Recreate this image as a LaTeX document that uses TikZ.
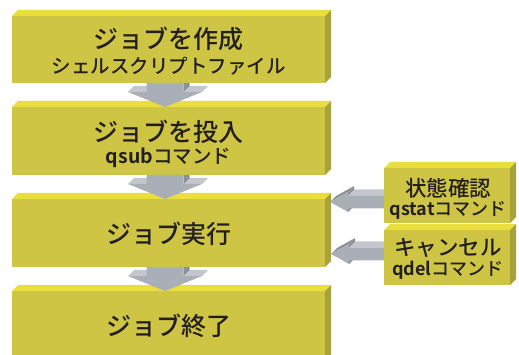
\documentclass[tikz,border=0pt]{standalone}
\usepackage{fontspec}
\setmainfont{Noto Sans CJK JP}[UprightFont={* Medium},BoldFont={* Bold}]
\definecolor{fc}{RGB}{207,197,69}
\definecolor{tc}{RGB}{233,222,61}
\definecolor{sc}{RGB}{168,162,58}
\definecolor{afront}{RGB}{170,174,182}
\definecolor{alight}{RGB}{195,199,205}
\definecolor{adark}{RGB}{140,145,152}
\definecolor{txt}{RGB}{35,31,32}
\newcommand\blk[4]{%
 \fill[fc] (#1,#2) rectangle (#3,#4);
 \fill[tc] (#1,#2) -- (#3,#2) -- (#3+6,#2-6) -- (#1+6,#2-6) -- cycle;
 \fill[sc] (#3,#2) -- (#3+6,#2-6) -- (#3+6,#4-6) -- (#3,#4) -- cycle;}
\newcommand\darr[4]{%
 \fill[alight] (#1-37,#3) -- (#1-18.5,#3) -- (#1-12.5,#3-6) -- (#1-31,#3-6) -- cycle;
 \fill[alight] (#1+18.5,#3) -- (#1+37,#3) -- (#1+43,#3-6) -- (#1+24.5,#3-6) -- cycle;
 \fill[adark] (#1+18.5,#2) -- (#1+24.5,#2) -- (#1+24.5,#3-6) -- (#1+18.5,#3) -- cycle;
 \fill[afront] (#1-18.5,#2) -- (#1+18.5,#2) -- (#1+18.5,#3) -- (#1+37,#3) -- (#1,#4) -- (#1-37,#3) -- (#1-18.5,#3) -- cycle;}
\newcommand\larr[4]{%
 \fill[alight] (#3,#2-6.5) -- (#4,#2-6.5) -- (#4+6,#2-12.5) -- (#3+6,#2-12.5) -- cycle;
 \fill[adark] (#1,#2) -- (#3,#2-10) -- (#3+6,#2-16) -- (#1+6,#2-6) -- cycle;
 \fill[adark] (#3,#2-10) -- (#3,#2-6.5) -- (#3+6,#2-12.5) -- (#3+6,#2-16) -- cycle;
 \fill[adark] (#3,#2+6.5) -- (#3,#2+10) -- (#3+6,#2+4) -- (#3+6,#2+0.5) -- cycle;
 \fill[afront] (#4,#2-6.5) -- (#3,#2-6.5) -- (#3,#2-10) -- (#1,#2) -- (#3,#2+10) -- (#3,#2+6.5) -- (#4,#2+6.5) -- cycle;}
\begin{document}
\begin{tikzpicture}[x=1pt,y=-1pt,
  ttl/.style={inner sep=0pt,text=txt,font=\fontsize{25}{25}\selectfont},
  subt/.style={inner sep=0pt,text=txt,font=\fontsize{19.5}{19.5}\selectfont},
  rttl/.style={inner sep=0pt,text=txt,font=\fontsize{21.5}{21.5}\selectfont},
  rsub/.style={inner sep=0pt,text=txt,font=\fontsize{18}{18}\selectfont}]
\useasboundingbox (0,0) rectangle (519,355);
\clip (0,0) rectangle (519,355);
\blk{12}{16}{325}{83}
\blk{12}{107}{325}{175}
\blk{12}{199}{325}{267}
\blk{12}{291}{325}{362}
\darr{165}{83}{92}{107}
\darr{165}{175}{184}{199}
\darr{165}{267}{276}{291}
\larr{330}{202}{348}{384}
\larr{331}{254}{349}{384}
\blk{384}{168}{510}{223}
\blk{384}{230}{510}{285}
\node[ttl] (t1) at (168.5,39) {ジョブを作成};
\node[subt] (s1) at (168.5,66) {シェルスクリプトファイル};
\node[ttl] (t2) at (168.5,132) {ジョブを投入};
\node[subt] (s2) at (168.5,158) {\bfseries qsub\mdseries コマンド};
\node[ttl] (t3) at (168.5,234) {ジョブ実行};
\node[ttl] (t4) at (168.5,326) {ジョブ終了};
\node[rttl] (t5) at (448,188) {状態確認};
\node[rsub] (s5) at (448,210) {\bfseries qstat\mdseries コマンド};
\node[rttl] (t6) at (448,248) {キャンセル};
\node[rsub] (s6) at (448,270) {\bfseries qdel\mdseries コマンド};
\end{tikzpicture}
\end{document}
